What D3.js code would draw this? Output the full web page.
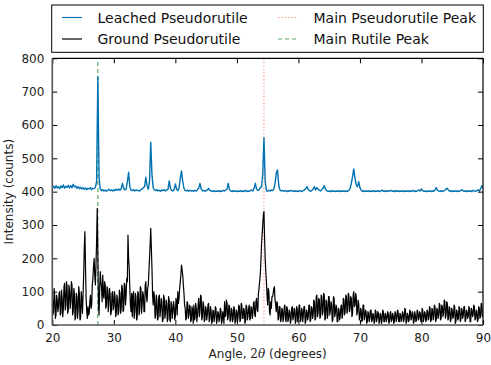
<!DOCTYPE html>
<html>
<head>
<meta charset="utf-8">
<script src="https://cdn.jsdelivr.net/npm/d3@7"></script>
<style>
  body { margin: 0; background: #fff; }
  svg { font-family: "DejaVu Sans", sans-serif; }
</style>
</head>
<body>
<svg id="chart" width="491" height="365"></svg>
<script>
// Scan grids (degrees 2theta)
const angleStart = 20;
const leachedStep = 0.2;
const groundStep = 0.1;

// Leached pseudorutile counts, one value per 0.2 degree from 20 to 90
const leached = [
  412, 416, 410, 418, 411,  415, 409, 417, 412, 420,  410, 416, 413, 419, 411,
  418, 412, 422, 414, 417,  410, 415, 409, 413, 408,  412, 407, 411, 406, 410,
  408, 412, 406, 410, 409,  413, 430, 745, 440, 408,  403, 406, 402, 405, 401,
  404, 407, 403, 405, 402,  406, 403, 407, 404, 408,  404, 409, 425, 410, 405,
  408, 430, 458, 415, 404,  403, 406, 402, 405, 403,  404, 402, 406, 408, 412,
  415, 443, 418, 407, 430,  548, 450, 412, 405, 403,  406, 402, 404, 401, 405,
  403, 406, 402, 405, 407,  432, 410, 404, 402, 406,  423, 408, 403, 412, 440,
  462, 430, 410, 404, 402,  405, 401, 404, 402, 403,  401, 404, 402, 406, 410,
  425, 408, 402, 404, 401,  403, 405, 410, 404, 402,  401, 403, 400, 402, 401,
  403, 400, 402, 401, 404,  402, 405, 408, 425, 406,  402, 400, 403, 401, 402,
  400, 402, 401, 403, 400,  402, 401, 404, 400, 402,  401, 403, 405, 402, 410,
  425, 408, 404, 406, 412,  415, 450, 562, 430, 403,  401, 404, 402, 405, 403,
  408, 425, 455, 465, 420,  405, 402, 404, 401, 403,  402, 400, 403, 401, 404,
  402, 401, 403, 400, 402,  401, 403, 402, 400, 404,  405, 410, 415, 406, 403,
  401, 404, 408, 415, 405,  412, 408, 404, 402, 406,  410, 418, 408, 403, 401,
  402, 400, 403, 401, 402,  400, 402, 401, 403, 400,  402, 401, 403, 400, 402,
  401, 404, 410, 425, 445,  468, 440, 420, 415, 430,  412, 404, 401, 403, 400,
  402, 401, 403, 400, 402,  401, 403, 400, 402, 401,  403, 400, 402, 405, 401,
  402, 400, 403, 401, 402,  404, 401, 402, 400, 403,  401, 403, 400, 402, 401,
  403, 400, 402, 401, 403,  400, 402, 401, 404, 400,  402, 401, 403, 405, 402,
  408, 403, 401, 402, 400,  402, 401, 403, 400, 402,  401, 405, 412, 404, 402,
  401, 403, 400, 402, 404,  408, 410, 404, 401, 403,  400, 402, 401, 403, 400,
  402, 401, 404, 406, 402,  401, 403, 400, 402, 401,  403, 400, 404, 402, 401,
  403, 405, 402, 408, 418,  412
];

// Ground pseudorutile counts, one value per 0.1 degree (one row per degree)
const ground = [
   95,  30,  40, 110,  85,  20,  30,  90,  75,  40,   // 20
   55,  95, 100,  30,  35, 105,  80,  25,  50, 115,   // 21
  125,  45,  60, 130, 115,  35,  45, 120, 105,  50,   // 22
   70, 130, 120,  30,  40, 110,  90,  15,  25,  95,   // 23
   85,  20,  45, 115,  95,  15,  20, 100,  80,  35,   // 24
   90, 150, 230, 280, 170,  80,  40,  20,  55,  30,   // 25
   35,  70,  90,  50,  60, 120, 140, 175, 200, 150,   // 26
  120, 180, 250, 350, 220,  60,  30, 110, 160, 130,   // 27
  110,  70, 150,  90,  80, 130, 120,  50,  60, 115,   // 28
  105,  40,  70, 110,  90,  30,  40,  95, 100,  45,   // 29
   55, 100,  85,  25,  35,  90,  75,  30,  40, 105,   // 30
   95,  35,  50, 120, 110,  40,  45, 125, 120,  60,   // 31
   90, 140, 130, 270, 200, 170, 110,  60,  40,  95,   // 32
   25,  85, 100,  20,  40,  95,  85,  15,  20, 100,   // 33
   95,  30,  45, 115, 110,  35,  60, 100,  90,  40,   // 34
   40, 120, 130,  85,  70, 110, 120, 160, 200, 240,   // 35
  290, 230, 170,  90,  60, 100,  85,  20,  30,  90,   // 36
   75,  15,  20,  85,  90,  25,  45,  80,  70,  10,   // 37
   15,  90,  80,  20,  35,  75,  65,  10,  20,  85,   // 38
   75,  15,  10,  70,  60,  20,  40,  70,  55,  15,   // 39
   25,  80,  70,  30, 100,  65,  80, 110, 130, 150,   // 40
  180, 165, 150, 120,  95,  60,  50,  15,  20,  70,   // 41
   65,  20,  30,  60,  55,  10,  15,  55,  45,   5,   // 42
   60,  15,  20,  65,  50,  10,  30,  60,  80,  25,   // 43
   40,  90,  85,  15,  25,  70,  60,  10,  15,  55,   // 44
   50,  15,  30,  60,  65,  10,  20,  55,  45,   5,   // 45
   10,  45,  40,  10,  25,  55,  50,   5,  15,  40,   // 46
   35,  10,  20,  50,  45,   5,  10,  40,  30,   5,   // 47
   70,  25,  30,  75,  65,  15,  25,  60,  55,  10,   // 48
   15,  50,  45,  10,  20,  55,  50,   5,  10,  45,   // 49
   40,  10,  25,  60,  55,  10,  15,  65,  60,  20,   // 50
   20,  50,  45,   5,  10,  60,  55,  15,  25,  50,   // 51
   60,  15,  20,  55,  50,  20,  35,  65,  70,  30,   // 52
   25,  70,  80,  45,  40,  95, 110, 130, 150, 190,   // 53
  240, 270, 300, 330, 340, 260, 200, 160, 130,  90,   // 54
   60, 110, 100,  40,  30,  70,  50,  85,  85,  95,   // 55
  110, 115,  75,  60,  40,  70,  65,  15,  20,  55,   // 56
   55,  10,  15,  50,  45,  10,  25,  55,  60,  15,   // 57
   10,  55,  50,  10,  20,  45,  40,   5,  15,  50,   // 58
   55,  15,  25,  50,  45,   5,  10,  55,  50,  10,   // 59
   20,  60,  60,  10,  15,  50,  45,  10,  30,  55,   // 60
   55,   5,  10,  45,  40,  15,  25,  60,  60,  10,   // 61
   15,  55,  50,  20,  30,  75,  70,  15,  20,  85,   // 62
   90,  25,  35,  80,  75,  20,  25,  90,  85,  30,   // 63
   40,  95,  90,  15,  20,  75,  70,  20,  30,  85,   // 64
   85,  30,  45,  70,  60,  10,  15,  85,  80,  25,   // 65
   35,  60,  55,  10,  10,  50,  45,  15,  25,  55,   // 66
   60,  20,  30,  80,  75,  30,  40,  90,  85,  35,   // 67
   45,  95,  90,  40,  50,  85,  80,  25,  35,  90,   // 68
  100,  55,  60,  95,  85,  30,  40,  75,  65,  15,   // 69
   20,  50,  45,  10,  15,  60,  60,  15,  25,  45,   // 70
   40,   5,  10,  40,  35,  10,  20,  45,  45,  10,   // 71
   15,  35,  30,   5,  10,  45,  40,  10,  20,  40,   // 72
   35,   5,  10,  35,  30,   5,  15,  45,  40,  10,   // 73
   10,  35,  30,  10,  20,  40,  35,   5,  10,  35,   // 74
   40,  10,  15,  35,  30,   5,  10,  40,  35,  10,   // 75
   20,  45,  40,  10,  10,  35,  30,  10,  15,  40,   // 76
   35,  10,  20,  50,  45,   5,  10,  35,  30,  10,   // 77
   15,  45,  40,  15,  20,  40,  35,   5,  10,  40,   // 78
   30,  10,  15,  45,  40,  15,  20,  40,  35,  10,   // 79
   10,  50,  45,  10,  20,  40,  35,  10,  15,  45,   // 80
   40,  15,  20,  55,  50,  10,  15,  50,  45,  15,   // 81
   25,  60,  55,  10,  15,  50,  45,  20,  30,  65,   // 82
   60,  15,  20,  60,  55,  25,  35,  75,  70,  20,   // 83
   30,  70,  65,  15,  20,  55,  50,  10,  15,  50,   // 84
   45,  20,  25,  60,  55,   5,  10,  45,  40,  15,   // 85
   20,  55,  50,  10,  15,  50,  45,  20,  30,  55,   // 86
   55,  10,  15,  45,  40,  20,  25,  55,  50,  10,   // 87
   10,  50,  45,  25,  30,  60,  55,  15,  20,  45,   // 88
   40,  10,  15,  55,  50,  20,  25,  65,  60,  25,   // 89
   30                                                 // 90
];

// Reference peak positions
const pseudorutilePeak = 54.4;
const rutilePeak = 27.4;

const xTicks = [20, 30, 40, 50, 60, 70, 80, 90];
const yTicks = [0, 100, 200, 300, 400, 500, 600, 700, 800];

const series = [
  { name: "Leached Pseudorutile", values: leached, step: leachedStep, color: "#0072b2", width: 1.4 },
  { name: "Ground Pseudorutile", values: ground, step: groundStep, color: "#000000", width: 1.2 }
];

var margin = { top: 58.3, right: 8, bottom: 40, left: 52.3 };
var width  = 491 - margin.left - margin.right;
var height = 325 - margin.top;

var svgRoot = d3.select("#chart");
var svg = svgRoot.append("g")
  .attr("transform", "translate(" + margin.left + "," + margin.top + ")");

var x = d3.scaleLinear().domain([20, 90]).range([0, width]);
var y = d3.scaleLinear().domain([0, 800]).range([height, 0]);

svg.append("defs").append("clipPath").attr("id", "clip")
  .append("rect").attr("width", width).attr("height", height);

var plot = svg.append("g").attr("clip-path", "url(#clip)");

// Peak markers (under the scans)
plot.append("line")
  .attr("x1", x(pseudorutilePeak)).attr("x2", x(pseudorutilePeak))
  .attr("y1", y(0)).attr("y2", y(800))
  .attr("stroke", "#f4845f").attr("stroke-width", 1.2)
  .attr("stroke-dasharray", "1.2,2.2").attr("opacity", 0.85);
plot.append("line")
  .attr("x1", x(rutilePeak)).attr("x2", x(rutilePeak))
  .attr("y1", y(0)).attr("y2", y(800))
  .attr("stroke", "#5aa86a").attr("stroke-width", 1.2)
  .attr("stroke-dasharray", "4,3");

series.forEach(function(s) {
  var line = d3.line()
    .x(function(d, i) { return x(angleStart + i * s.step); })
    .y(function(d) { return y(d); });
  plot.append("path")
    .datum(s.values)
    .attr("fill", "none")
    .attr("stroke", s.color)
    .attr("stroke-width", s.width)
    .attr("stroke-linejoin", "round")
    .attr("d", line);
});

// Axes with inward ticks
svg.append("g")
  .attr("transform", "translate(0," + height + ")")
  .call(d3.axisBottom(x).tickValues(xTicks).tickSizeInner(-5).tickSizeOuter(0).tickPadding(8));
svg.append("g")
  .call(d3.axisLeft(y).tickValues(yTicks).tickSizeInner(-5).tickSizeOuter(0).tickPadding(8));
svg.append("g")
  .call(d3.axisTop(x).tickValues(xTicks).tickSizeInner(-5).tickSizeOuter(0).tickFormat(""));
svg.append("g")
  .attr("transform", "translate(" + width + ",0)")
  .call(d3.axisRight(y).tickValues(yTicks).tickSizeInner(-5).tickSizeOuter(0).tickFormat(""));

svg.selectAll(".domain").remove();
svg.selectAll(".tick line").attr("stroke", "#000");
svg.selectAll(".tick text")
  .attr("font-family", "DejaVu Sans").attr("font-size", 12).attr("fill", "#222");

// Spines
svg.append("line").attr("x1", 0).attr("x2", width).attr("y1", 0).attr("y2", 0)
  .attr("stroke", "#000").attr("stroke-width", 1.2);
svg.append("line").attr("x1", width).attr("x2", width).attr("y1", 0).attr("y2", height)
  .attr("stroke", "#000").attr("stroke-width", 1.2);
svg.append("line").attr("x1", 0).attr("x2", 0).attr("y1", 0).attr("y2", height)
  .attr("stroke", "#555").attr("stroke-width", 1.6);
svg.append("line").attr("x1", 0).attr("x2", width).attr("y1", height).attr("y2", height)
  .attr("stroke", "#555").attr("stroke-width", 1.6);

// Axis titles
var xlab = svg.append("text")
  .attr("x", width / 2).attr("y", height + 33)
  .attr("text-anchor", "middle").attr("font-size", 12).attr("fill", "#222");
xlab.append("tspan").text("Angle, ");
xlab.append("tspan").attr("font-family", "DejaVu Serif").text("2");
xlab.append("tspan").attr("font-family", "DejaVu Serif").attr("font-style", "italic").text("θ");
xlab.append("tspan").text(" (degrees)");

svg.append("text")
  .attr("transform", "translate(-39," + (height / 2) + ") rotate(-90)")
  .attr("text-anchor", "middle").attr("font-size", 12).attr("fill", "#222")
  .text("Intensity (counts)");

// Legend above the axes
var legend = svgRoot.append("g");
legend.append("rect")
  .attr("x", 51.7).attr("y", 5).attr("width", 431.6).attr("height", 47.3)
  .attr("fill", "#fff").attr("stroke", "#000").attr("stroke-width", 1);

var legendItems = [
  { label: "Leached Pseudorutile", color: "#0072b2", dash: null, col: 0, row: 0 },
  { label: "Ground Pseudorutile", color: "#000", dash: null, col: 0, row: 1 },
  { label: "Main Pseudorutile Peak", color: "#f4845f", dash: "1.2,2.2", col: 1, row: 0 },
  { label: "Main Rutile Peak", color: "#5aa86a", dash: "4,3", col: 1, row: 1 }
];
var colX = [62, 278];
var rowY = [17.5, 39];
legendItems.forEach(function(d) {
  var lx = colX[d.col], ly = rowY[d.row];
  legend.append("line")
    .attr("x1", lx).attr("x2", lx + 20).attr("y1", ly).attr("y2", ly)
    .attr("stroke", d.color).attr("stroke-width", 1.2)
    .attr("stroke-dasharray", d.dash);
  legend.append("text")
    .attr("x", lx + 35.5).attr("y", ly + 5)
    .attr("font-size", 14).attr("fill", "#111")
    .text(d.label);
});
</script>
</body>
</html>
